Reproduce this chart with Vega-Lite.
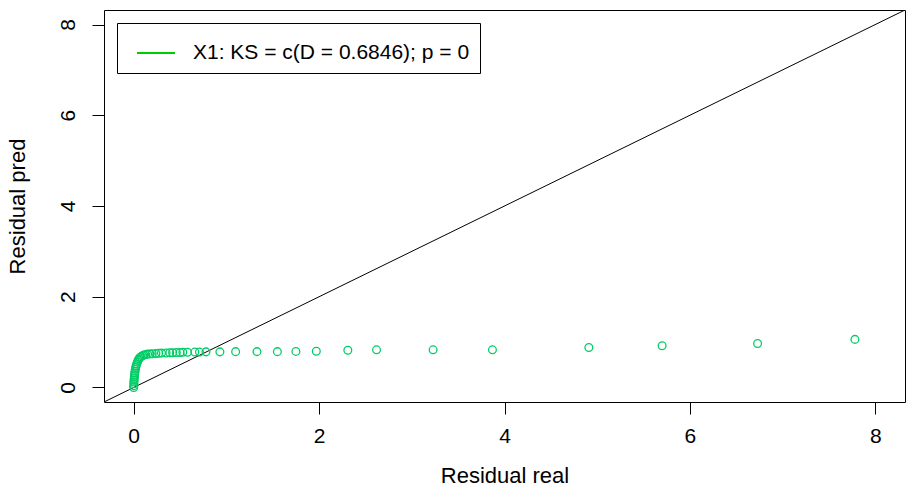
{
  "$schema": "https://vega.github.io/schema/vega-lite/v6.json",
  "width": 801,
  "height": 392,
  "autosize": {"type": "none"},
  "padding": {"left": 104, "top": 10, "right": 3, "bottom": 85},
  "background": "white",
  "config": {
    "view": {"stroke": "black", "strokeWidth": 1},
    "font": "Liberation Sans",
    "axis": {
      "domain": false,
      "grid": false,
      "ticks": true,
      "tickColor": "black",
      "tickSize": 12,
      "tickWidth": 1,
      "labelColor": "black",
      "labelFont": "Liberation Sans",
      "labelFontSize": 21,
      "titleColor": "black",
      "titleFont": "Liberation Sans",
      "titleFontSize": 22,
      "titleFontWeight": "normal"
    }
  },
  "datasets": {
    "pts": [
      {"real": 0.0, "pred": 0.0},
      {"real": 0.001, "pred": 0.04},
      {"real": 0.002, "pred": 0.08},
      {"real": 0.003, "pred": 0.12},
      {"real": 0.004, "pred": 0.16},
      {"real": 0.006, "pred": 0.2},
      {"real": 0.008, "pred": 0.24},
      {"real": 0.01, "pred": 0.28},
      {"real": 0.012, "pred": 0.32},
      {"real": 0.015, "pred": 0.36},
      {"real": 0.018, "pred": 0.4},
      {"real": 0.022, "pred": 0.44},
      {"real": 0.027, "pred": 0.48},
      {"real": 0.033, "pred": 0.52},
      {"real": 0.04, "pred": 0.56},
      {"real": 0.048, "pred": 0.6},
      {"real": 0.057, "pred": 0.63},
      {"real": 0.067, "pred": 0.66},
      {"real": 0.08, "pred": 0.68},
      {"real": 0.095, "pred": 0.7},
      {"real": 0.11, "pred": 0.715},
      {"real": 0.13, "pred": 0.725},
      {"real": 0.15, "pred": 0.735},
      {"real": 0.175, "pred": 0.74},
      {"real": 0.2, "pred": 0.745},
      {"real": 0.24, "pred": 0.75},
      {"real": 0.27, "pred": 0.755},
      {"real": 0.3, "pred": 0.76},
      {"real": 0.35, "pred": 0.76},
      {"real": 0.39, "pred": 0.765},
      {"real": 0.42, "pred": 0.765},
      {"real": 0.46, "pred": 0.77},
      {"real": 0.5, "pred": 0.77},
      {"real": 0.53, "pred": 0.775},
      {"real": 0.58, "pred": 0.775},
      {"real": 0.66, "pred": 0.78},
      {"real": 0.71, "pred": 0.78},
      {"real": 0.78, "pred": 0.785},
      {"real": 0.93, "pred": 0.785},
      {"real": 1.10, "pred": 0.79},
      {"real": 1.33, "pred": 0.79},
      {"real": 1.55, "pred": 0.79},
      {"real": 1.75, "pred": 0.795},
      {"real": 1.97, "pred": 0.8},
      {"real": 2.31, "pred": 0.82},
      {"real": 2.62, "pred": 0.83},
      {"real": 3.23, "pred": 0.83},
      {"real": 3.87, "pred": 0.83},
      {"real": 4.91, "pred": 0.88},
      {"real": 5.70, "pred": 0.92},
      {"real": 6.73, "pred": 0.97},
      {"real": 7.78, "pred": 1.06}
    ],
    "diag": [
      {"x1": -0.32, "y1": -0.32, "x2": 8.32, "y2": 8.32}
    ],
    "leg": [
      {"series": "X1: KS = c(D = 0.6846); p = 0", "real": -5, "pred": -5}
    ]
  },
  "layer": [
    {
      "data": {"name": "diag"},
      "mark": {"type": "rule", "color": "black", "strokeWidth": 1, "clip": true},
      "encoding": {
        "x": {"field": "x1", "type": "quantitative", "scale": {"domain": [-0.32, 8.32], "nice": false, "zero": false},
          "axis": {"values": [0, 2, 4, 6, 8], "format": "d", "title": "Residual real", "labelPadding": 11, "titlePadding": 19}},
        "y": {"field": "y1", "type": "quantitative", "scale": {"domain": [-0.32, 8.32], "nice": false, "zero": false},
          "axis": {"values": [0, 2, 4, 6, 8], "format": "d", "title": "Residual pred", "labelAngle": -90, "labelPadding": 14, "titlePadding": 28}},
        "x2": {"field": "x2"},
        "y2": {"field": "y2"}
      }
    },
    {
      "data": {"name": "pts"},
      "mark": {"type": "point", "filled": false, "size": 60, "strokeWidth": 1.3, "opacity": 1, "color": "#00CD66"},
      "encoding": {
        "x": {"field": "real", "type": "quantitative"},
        "y": {"field": "pred", "type": "quantitative"}
      }
    },
    {
      "data": {"name": "leg"},
      "mark": {"type": "line", "strokeWidth": 2, "clip": true},
      "encoding": {
        "x": {"field": "real", "type": "quantitative"},
        "y": {"field": "pred", "type": "quantitative"},
        "color": {
          "field": "series", "type": "nominal",
          "scale": {"range": ["#00CD00"]},
          "legend": {
            "title": null,
            "orient": "top-left",
            "offset": 13,
            "strokeColor": "black",
            "fillColor": "white",
            "padding": 10,
            "symbolType": "stroke",
            "symbolSize": 1444,
            "symbolStrokeWidth": 2,
            "symbolOffset": 9,
            "labelOffset": 17,
            "labelFont": "Liberation Sans",
            "labelFontSize": 21,
            "labelColor": "black",
            "labelLimit": 600
          }
        }
      }
    }
  ]
}
